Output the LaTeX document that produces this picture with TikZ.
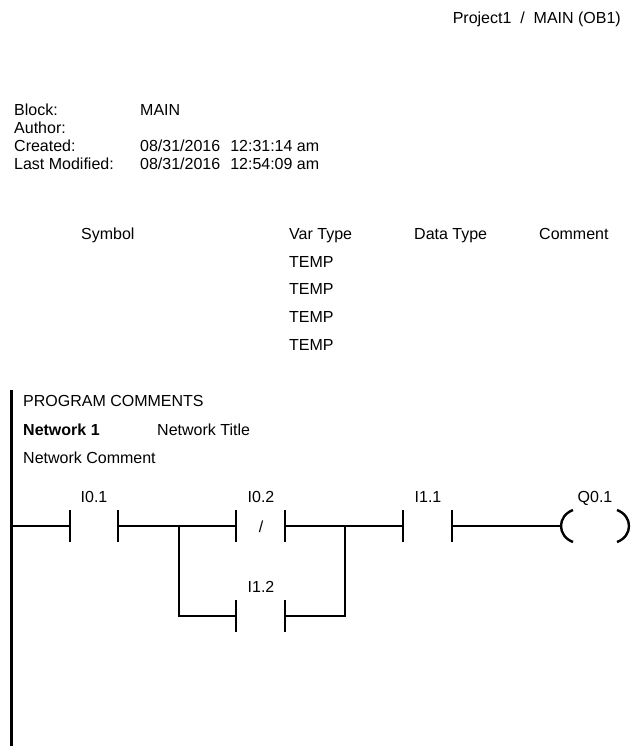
\documentclass[tikz,border=0pt]{standalone}
\usepackage{fontspec}
\setmainfont{Liberation Sans}

\newcommand{\plccontact}[4]{% name, left x, right x, rung y
  \coordinate (#1l) at (#2,#4);
  \coordinate (#1r) at (#3,#4);
  \draw[bar] ([yshift=-16pt]#1l) -- ([yshift=16pt]#1l);
  \draw[bar] ([yshift=-16pt]#1r) -- ([yshift=16pt]#1r);
}

\begin{document}
\begin{tikzpicture}[x=1pt,y=-1pt,
    txt/.style={anchor=west,inner sep=0pt,text height=11.5pt,text depth=0pt,
      font=\fontsize{16}{19}\selectfont},
    lbl/.style={inner sep=0pt,text height=11.5pt,text depth=0pt,
      font=\fontsize{16}{19}\selectfont},
    wire/.style={line width=2pt},
    bar/.style={line width=2.4pt}]
  \useasboundingbox (0,0) rectangle (633,746);

  % header
  \node[txt,anchor=east] (proj) at (621,18) {Project1\ \ /\ \ MAIN (OB1)};

  \node[txt] (block)   at (14,110) {Block:};
  \node[txt] (author)  at (14,128) {Author:};
  \node[txt] (created) at (14,146) {Created:};
  \node[txt] (modif)   at (14,164) {Last Modified:};
  \node[txt] (blockv)   at (140,110) {MAIN};
  \node[txt] (createdv) at (140,146) {08/31/2016\hspace{10pt}12:31:14 am};
  \node[txt] (modifv)   at (140,164) {08/31/2016\hspace{10pt}12:54:09 am};

  % variable table
  \node[txt] (symbol)  at (81,234)  {Symbol};
  \node[txt] (vartype) at (289,234) {Var Type};
  \node[txt] (datatype) at (414,234) {Data Type};
  \node[txt] (comment) at (539,234) {Comment};
  \foreach \i/\y in {1/262,2/289,3/317,4/345}
    \node[txt] (temp\i) at (289,\y) {TEMP};

  % network header
  \node[txt] (progcom) at (23,401) {PROGRAM COMMENTS};
  \node[txt,font=\fontsize{16}{19}\selectfont\bfseries] (net) at (23,430) {Network 1};
  \node[txt] (nettitle) at (157,430) {Network Title};
  \node[txt] (netcom) at (23,458) {Network Comment};

  % power rail
  \coordinate (railtop) at (11,390);
  \coordinate (railbot) at (11,746);
  \coordinate (rail) at (11,526);
  \draw[line width=3pt] (railtop) -- (railbot);

  % contacts
  \plccontact{ca}{70}{118}{526}
  \plccontact{cb}{236}{285}{526}
  \plccontact{cc}{236}{285}{616}
  \plccontact{cd}{403}{452}{526}
  \node[lbl] (la) at (94,497) {I0.1};
  \node[lbl] (lb) at (261,497) {I0.2};
  \node[lbl] (nb) at (261,527) {/};
  \node[lbl] (lc) at (261,587) {I1.2};
  \node[lbl] (ld) at (428,497) {I1.1};

  % branches
  \coordinate (split) at (179,526);
  \coordinate (join) at (345,526);
  \draw[wire] (rail) -- (cal);
  \draw[wire] (car) -- (split) -- (cbl);
  \draw[wire] (split) |- (ccl);
  \draw[wire] (cbr) -- (join) -- (cdl);
  \draw[wire] (ccr) -| (join);

  % coil
  \coordinate (coil) at (560,526);
  \draw[wire] (cdr) -- (coil);
  \draw[bar] ([shift={(13,-16)}]coil) .. controls ([shift={(-3,-10)}]coil) and ([shift={(-3,10)}]coil) .. ([shift={(13,16)}]coil);
  \draw[bar] ([shift={(57,-16)}]coil) .. controls ([shift={(73,-10)}]coil) and ([shift={(73,10)}]coil) .. ([shift={(57,16)}]coil);
  \node[lbl] (lq) at (595,497) {Q0.1};

\end{tikzpicture}
\end{document}
